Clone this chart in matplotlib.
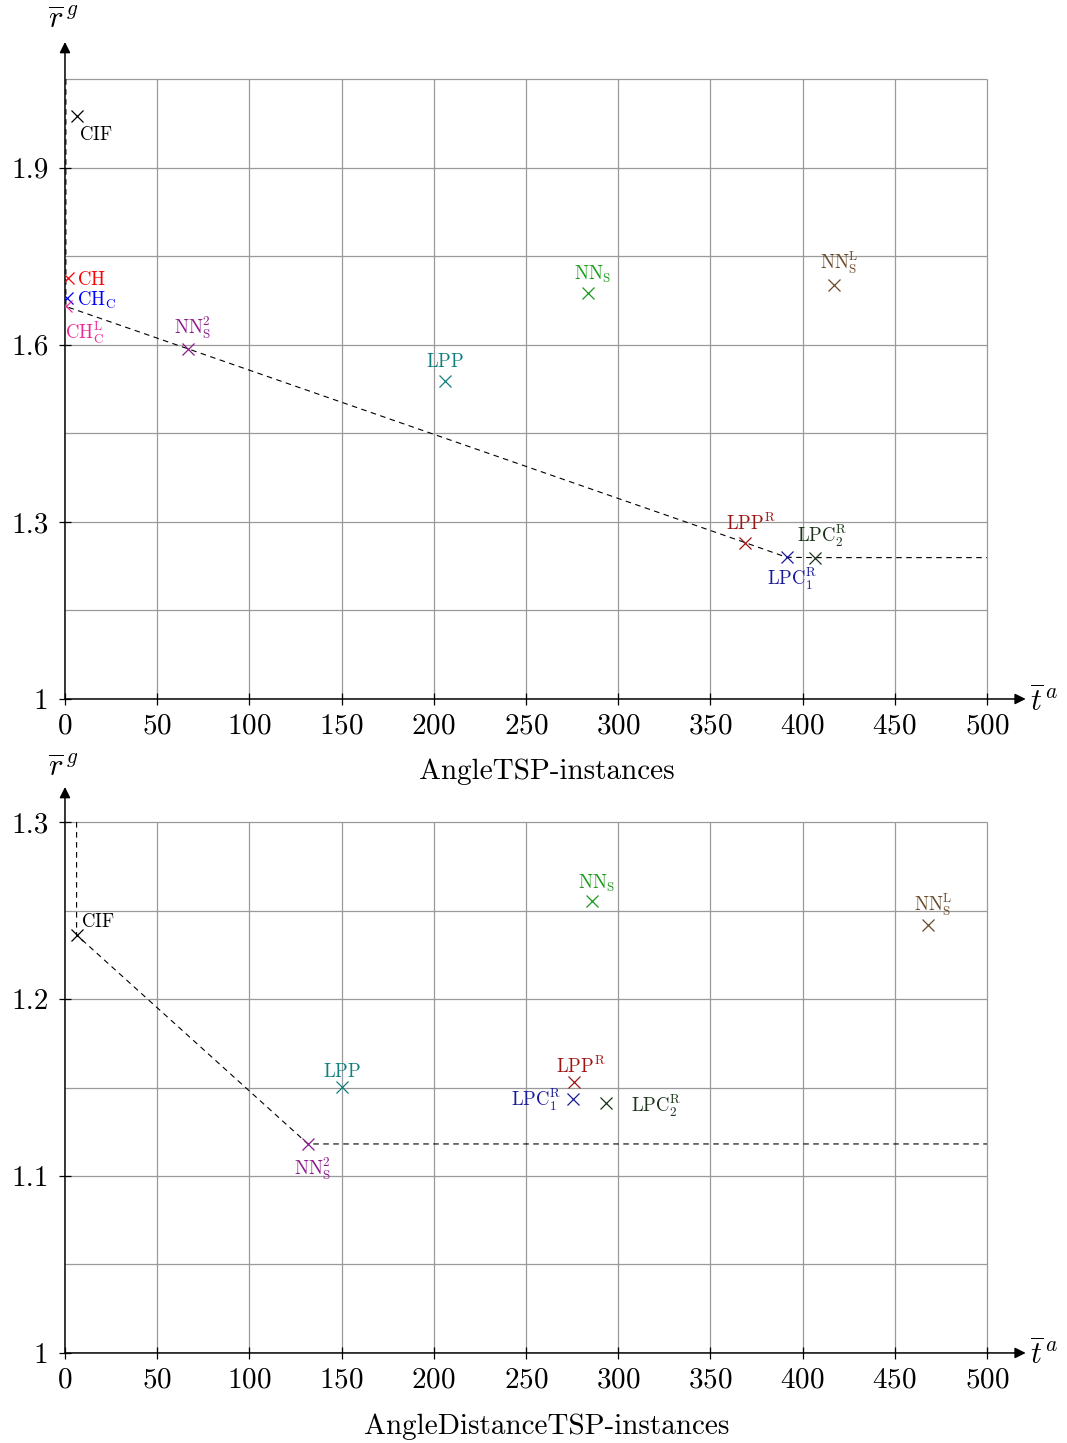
import matplotlib.pyplot as plt
from matplotlib.ticker import FixedLocator, FixedFormatter

plt.rcParams["font.family"] = "serif"
plt.rcParams["font.serif"] = ["cmr10", "DejaVu Serif"]
plt.rcParams["mathtext.fontset"] = "cm"
plt.rcParams["axes.formatter.use_mathtext"] = True

# algorithm names and colours (same order in both panels)
names = ["CIF", "CH", "CH_C", "CH_C^L", "NN_S^2", "LPP", "NN_S", "NN_S^L",
         "LPP^R", "LPC_1^R", "LPC_2^R"]
colors = ["black", "#ff0000", "#0000ff", "#ee2a9a", "#8b1a8b", "#0f7f7f",
          "#1a9a1a", "#6b4a2b", "#a01414", "#1a1a9a", "#1a331a"]

# AngleTSP-instances
angle_t = [6.3, 1.5, 1.0, 0.5, 66.9, 206.1, 283.7, 417.0, 368.8, 391.4, 406.7]
angle_r = [1.988, 1.713, 1.680, 1.665, 1.593, 1.539, 1.687, 1.702, 1.265, 1.240, 1.2395]
angle_front = ["CH_C^L", "NN_S^2", "LPP^R", "LPC_1^R", "LPC_2^R"]
angle_yticks = [1, 1.3, 1.6, 1.9]
angle_ylabels = ["1", "1.3", "1.6", "1.9"]
angle_ygrid = [1.15, 1.3, 1.45, 1.6, 1.75, 1.9, 2.05]

# AngleDistanceTSP-instances
dist_t = [6.3, None, None, None, 131.8, 150.2, 285.8, 468.2, 276.2, 275.3, 293.4]
dist_r = [1.2362, None, None, None, 1.1181, 1.1503, 1.2554, 1.2418, 1.1529, 1.1433, 1.1414]
dist_front = ["CIF", "NN_S^2"]
dist_yticks = [1, 1.1, 1.2, 1.3]
dist_ylabels = ["1", "1.1", "1.2", "1.3"]
dist_ygrid = [1.05, 1.1, 1.15, 1.2, 1.25, 1.3]

xticks = [0, 50, 100, 150, 200, 250, 300, 350, 400, 450, 500]

# label placement: (dx, dy) in points, ha, va
angle_pos = {
    "CIF": (1.5, -7, "left", "top"),
    "CH": (7, 0, "left", "center_baseline"),
    "CH_C": (7, 0, "left", "center_baseline"),
    "CH_C^L": (-1, -10, "left", "top"),
    "NN_S^2": (3, 6, "center", "bottom"),
    "LPP": (0, 7, "center", "bottom"),
    "NN_S": (3.5, 6, "center", "bottom"),
    "NN_S^L": (3.5, 6, "center", "bottom"),
    "LPP^R": (4, 6, "center", "bottom"),
    "LPC_1^R": (4, -6, "center", "top"),
    "LPC_2^R": (5, 6, "center", "bottom"),
}
dist_pos = {
    "CIF": (3, 3, "left", "bottom"),
    "NN_S^2": (3.5, -9, "center", "top"),
    "LPP": (0, 4, "center", "bottom"),
    "NN_S": (3.5, 5, "center", "bottom"),
    "NN_S^L": (3.5, 5, "center", "bottom"),
    "LPP^R": (5, 4, "center", "bottom"),
    "LPC_1^R": (-8, -5, "right", "baseline"),
    "LPC_2^R": (18, -6.5, "left", "baseline"),
}


def panel(ax, t, r, front, yticks, ylabels, ygrid, ytop, pos):
    ax.set_xlim(0, 521)
    ax.set_ylim(1, ytop)
    for s in ax.spines.values():
        s.set_visible(False)
    ax.vlines(xticks[1:], 1, ygrid[-1], color="#9a9a9a", lw=0.9, zorder=0)
    ax.hlines(ygrid, 0, xticks[-1], color="#9a9a9a", lw=0.9, zorder=0)
    arrow = dict(arrowstyle="-|>", color="black", lw=1.1, mutation_scale=16,
                 shrinkA=0, shrinkB=0)
    ax.annotate("", xy=(1, 0), xytext=(0, 0), xycoords="axes fraction", arrowprops=arrow)
    ax.annotate("", xy=(0, 1), xytext=(0, 0), xycoords="axes fraction", arrowprops=arrow)
    ax.xaxis.set_major_locator(FixedLocator(xticks))
    ax.yaxis.set_major_locator(FixedLocator(yticks))
    ax.yaxis.set_major_formatter(FixedFormatter(ylabels))
    ax.tick_params(direction="inout", length=8, width=0.9, labelsize=21)
    ax.tick_params(axis="y", pad=8)
    ax.tick_params(axis="x", pad=6)

    # pareto front
    fx = [t[names.index(n)] for n in front]
    fy = [r[names.index(n)] for n in front]
    fx = [fx[0]] + fx + [xticks[-1]]
    fy = [ygrid[-1]] + fy + [fy[-1]]
    ax.plot(fx, fy, color="black", ls=(0, (5, 4)), lw=0.8, zorder=1)

    for n, c, x, y in zip(names, colors, t, r):
        if x is None:
            continue
        ax.plot(x, y, marker="x", ls="none", color=c, ms=9, mew=0.9, zorder=3)
        dx, dy, ha, va = pos[n]
        ax.annotate(r"$\mathrm{" + n + "}$", (x, y), xytext=(dx, dy),
                    textcoords="offset points", ha=ha, va=va, color=c, fontsize=13.5)


fig = plt.figure(figsize=(10.67, 14.43), dpi=100)
ax1 = fig.add_axes([0.0609, 0.5156, 0.9004, 0.4553])
ax2 = fig.add_axes([0.0609, 0.0624, 0.9004, 0.3922])

panel(ax1, angle_t, angle_r, angle_front, angle_yticks, angle_ylabels,
      angle_ygrid, 2.113, angle_pos)
panel(ax2, dist_t, dist_r, dist_front, dist_yticks, dist_ylabels,
      dist_ygrid, 1.3198, dist_pos)

for yl, yx in [(0.986, 0.514), (0.468, 0.061)]:
    fig.text(0.059, yl, r"$\overline{r}^{\,g}$", fontsize=22, ha="center", va="center")
    fig.text(0.979, yx, r"$\overline{t}^{\,a}$", fontsize=22, ha="center", va="center")

fig.text(0.5126, 0.465, "AngleTSP-instances", fontsize=21, ha="center", va="center")
fig.text(0.5126, 0.011, "AngleDistanceTSP-instances", fontsize=21, ha="center", va="center")

fig.savefig("out.png", dpi=100)
